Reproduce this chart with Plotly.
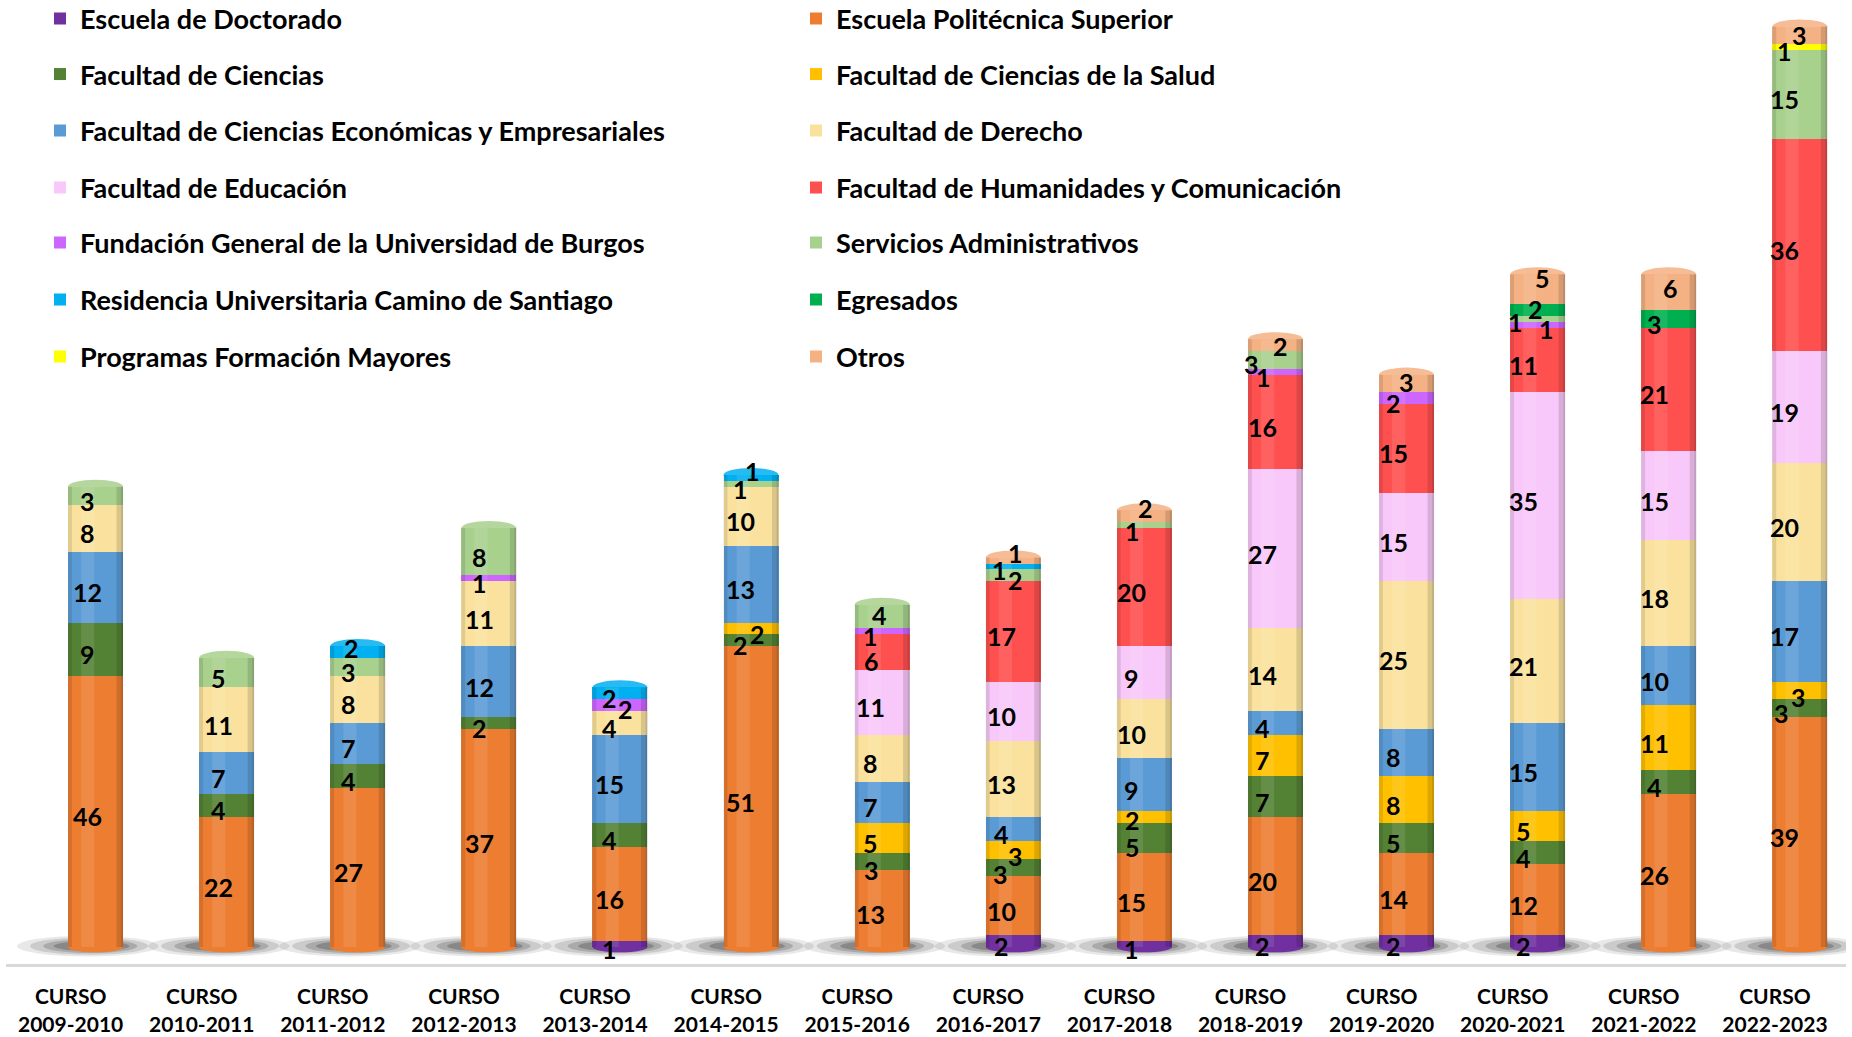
import plotly.graph_objects as go

# Academic years
cursos = ["2009-2010", "2010-2011", "2011-2012", "2012-2013", "2013-2014",
          "2014-2015", "2015-2016", "2016-2017", "2017-2018", "2018-2019",
          "2019-2020", "2020-2021", "2021-2022", "2022-2023"]
tick_labels = ["CURSO<br>" + c for c in cursos]

# Units, stacked bottom to top
escuela_doctorado      = [0, 0, 0, 0, 1, 0, 0, 2, 1, 2, 2, 2, 0, 0]
escuela_politecnica    = [46, 22, 27, 37, 16, 51, 13, 10, 15, 20, 14, 12, 26, 39]
fac_ciencias           = [9, 4, 4, 2, 4, 2, 3, 3, 5, 7, 5, 4, 4, 3]
fac_ciencias_salud     = [0, 0, 0, 0, 0, 2, 5, 3, 2, 7, 8, 5, 11, 3]
fac_economicas         = [12, 7, 7, 12, 15, 13, 7, 4, 9, 4, 8, 15, 10, 17]
fac_derecho            = [8, 11, 8, 11, 4, 10, 8, 13, 10, 14, 25, 21, 18, 20]
fac_educacion          = [0, 0, 0, 0, 0, 0, 11, 10, 9, 27, 15, 35, 15, 19]
fac_humanidades        = [0, 0, 0, 0, 0, 0, 6, 17, 20, 16, 15, 11, 21, 36]
fundacion_general      = [0, 0, 0, 1, 2, 0, 1, 0, 0, 1, 2, 1, 0, 0]
servicios_admin        = [3, 5, 3, 8, 0, 1, 4, 2, 1, 3, 0, 1, 0, 15]
residencia             = [0, 0, 2, 0, 2, 1, 0, 1, 0, 0, 0, 0, 0, 0]
egresados              = [0, 0, 0, 0, 0, 0, 0, 0, 0, 0, 0, 2, 3, 0]
programas_mayores      = [0, 0, 0, 0, 0, 0, 0, 0, 0, 0, 0, 0, 0, 1]
otros                  = [0, 0, 0, 0, 0, 0, 0, 1, 2, 2, 3, 5, 6, 3]

series = [
    ("Escuela de Doctorado", escuela_doctorado, "#7030A0"),
    ("Escuela Politécnica Superior", escuela_politecnica, "#ED7D31"),
    ("Facultad de Ciencias", fac_ciencias, "#548235"),
    ("Facultad de Ciencias de la Salud", fac_ciencias_salud, "#FFC000"),
    ("Facultad de Ciencias Económicas y Empresariales", fac_economicas, "#5B9BD5"),
    ("Facultad de Derecho", fac_derecho, "#FAE29E"),
    ("Facultad de Educación", fac_educacion, "#F9C8FA"),
    ("Facultad de Humanidades y Comunicación", fac_humanidades, "#FF5050"),
    ("Fundación General de la Universidad de Burgos", fundacion_general, "#CC66FF"),
    ("Servicios Administrativos", servicios_admin, "#A9D18E"),
    ("Residencia Universitaria Camino de Santiago", residencia, "#00B0F0"),
    ("Egresados", egresados, "#00B050"),
    ("Programas Formación Mayores", programas_mayores, "#FFFF00"),
    ("Otros", otros, "#F4B183"),
]

# Pixel nudges (dx right, dy down) for crowded labels on thin segments
label_nudges = {
    ("Residencia Universitaria Camino de Santiago", 2): (-6, -4),
    ("Fundación General de la Universidad de Burgos", 4): (6, 4),
    ("Facultad de Ciencias de la Salud", 5): (6, 6),
    ("Residencia Universitaria Camino de Santiago", 5): (1, -7),
    ("Facultad de Ciencias", 6): (-11, 9),
    ("Facultad de Humanidades y Comunicación", 6): (-11, 9),
    ("Servicios Administrativos", 6): (-3, -2),
    ("Fundación General de la Universidad de Burgos", 6): (-12, 5),
    ("Facultad de Ciencias", 7): (-13, 7),
    ("Facultad de Ciencias de la Salud", 7): (2, 6),
    ("Servicios Administrativos", 7): (2, 5),
    ("Residencia Universitaria Camino de Santiago", 7): (-14, 4),
    ("Otros", 7): (2, -8),
    ("Facultad de Ciencias", 8): (-12, 9),
    ("Facultad de Ciencias de la Salud", 8): (-12, 3),
    ("Servicios Administrativos", 8): (-12, 6),
    ("Otros", 8): (1, -8),
    ("Fundación General de la Universidad de Burgos", 9): (-12, 5),
    ("Servicios Administrativos", 9): (-24, 4),
    ("Otros", 9): (5, 1),
    ("Otros", 10): (0, -2),
    ("Servicios Administrativos", 11): (-22, 3),
    ("Fundación General de la Universidad de Burgos", 11): (9, 4),
    ("Egresados", 11): (-2, -1),
    ("Otros", 11): (5, -11),
    ("Otros", 12): (2, -4),
    ("Facultad de Ciencias", 13): (-18, 5),
    ("Facultad de Ciencias de la Salud", 13): (-1, 7),
    ("Programas Formación Mayores", 13): (-15, 4),
    ("Otros", 13): (0, 0),
}

FONT = "Lato"
HALF_W = 0.21          # half of the bar width, in axis units
PX_W, PX_H = 1852, 1037
PLOT_TOP, PLOT_BOTTOM = 0, 964
PLOT_H = PLOT_BOTTOM - PLOT_TOP
BASE_PX = 947          # pixel row of the zero line
UNIT_PX = 5.9          # pixels per unit on the value axis

n = len(cursos)
xpos = list(range(n))

fig = go.Figure()

for k, (name, vals, color) in enumerate(series):
    fig.add_trace(go.Bar(
        name=name,
        x=xpos,
        y=[v if v else None for v in vals],
        width=2 * HALF_W,
        marker=dict(color=color, line=dict(width=0)),
        legend="legend" if k // 2 == 0 else f"legend{k // 2 + 1}",
        hoverinfo="skip",
    ))


def lighten(hex_color, f):
    h = hex_color.lstrip("#")
    r, g, b = (int(h[i:i + 2], 16) for i in (0, 2, 4))
    r, g, b = (int(c + (255 - c) * f) for c in (r, g, b))
    return f"rgb({r},{g},{b})"


shapes = []
annotations = []
for i in range(n):
    total = sum(vals[i] for _, vals, _ in series)
    bottom_color = next(c for (_, v, c) in series if v[i])
    top_color = next(c for (_, v, c) in reversed(series) if v[i])

    # soft floor shadow around the base, spreading mostly to the left
    for dx0, dx1, y0, y1, op in [(0.60, 0.48, -1.6, 1.9, 0.09),
                                 (0.50, 0.40, -1.3, 1.6, 0.12),
                                 (0.40, 0.32, -1.0, 1.3, 0.16),
                                 (0.32, 0.26, -0.7, 1.0, 0.20)]:
        shapes.append(dict(type="circle", xref="x", yref="y", layer="below",
                           x0=i - dx0, x1=i + dx1, y0=y0, y1=y1,
                           fillcolor=f"rgba(0,0,0,{op})", line=dict(width=0)))
    # rounded base of the cylinder
    shapes.append(dict(type="circle", xref="x", yref="y", layer="below",
                       x0=i - HALF_W, x1=i + HALF_W, y0=-0.9, y1=0.9,
                       fillcolor=bottom_color, line=dict(width=0)))
    # top cap of the cylinder
    shapes.append(dict(type="circle", xref="x", yref="y", layer="below",
                       x0=i - HALF_W, x1=i + HALF_W, y0=total - 1.2, y1=total + 1.2,
                       fillcolor=lighten(top_color, 0.15), line=dict(width=0)))
    # cylinder shading along the sides
    for x0, x1, fill in [(-HALF_W, -HALF_W + 0.03, "rgba(0,0,0,0.10)"),
                         (HALF_W - 0.05, HALF_W, "rgba(0,0,0,0.13)"),
                         (HALF_W - 0.015, HALF_W, "rgba(0,0,0,0.10)"),
                         (-0.11, -0.01, "rgba(255,255,255,0.10)")]:
        shapes.append(dict(type="rect", xref="x", yref="y", layer="above",
                           x0=i + x0, x1=i + x1, y0=0, y1=total,
                           fillcolor=fill, line=dict(width=0)))

    # value labels, centred on each segment
    base = 0
    default_dx = -(8 + 0.55 * i)
    for name, vals, _ in series:
        v = vals[i]
        if not v:
            continue
        dx, dy = label_nudges.get((name, i), (default_dx, 5))
        annotations.append(dict(
            x=i, y=base + v / 2, xref="x", yref="y", text=str(v),
            showarrow=False, xshift=dx, yshift=-dy,
            font=dict(family=FONT, size=25, color="black", weight="bold"),
        ))
        base += v

# one legend per row, two entries each
legend_rows_px = [19, 74.5, 131, 188, 243, 300, 357]
legends = {}
for r, ypx in enumerate(legend_rows_px):
    key = "legend" if r == 0 else f"legend{r + 1}"
    legends[key] = dict(
        orientation="h", x=(40 - 6) / 1840, xanchor="left",
        y=1 - (ypx - PLOT_TOP) / PLOT_H, yanchor="middle",
        entrywidth=711, entrywidthmode="pixels",
        font=dict(family=FONT, size=27, color="black", weight="bold"),
        bgcolor="rgba(0,0,0,0)", itemclick=False, itemdoubleclick=False,
        traceorder="normal",
    )

fig.update_layout(
    width=PX_W, height=PX_H,
    barmode="stack",
    plot_bgcolor="white", paper_bgcolor="white",
    margin=dict(l=6, r=6, t=PLOT_TOP, b=PX_H - PLOT_BOTTOM, autoexpand=False),
    showlegend=True,
    shapes=shapes,
    annotations=annotations,
    xaxis=dict(
        range=[-0.683, 13.352],
        tickmode="array",
        tickvals=[i - 0.19 for i in xpos],
        ticktext=tick_labels,
        showline=True, linecolor="#D9D9D9", linewidth=3,
        showgrid=False, zeroline=False, ticks="",
        tickfont=dict(family=FONT, size=21, color="black", weight="bold"),
        ticklabelstandoff=12,
    ),
    yaxis=dict(range=[-(PLOT_BOTTOM - BASE_PX) / UNIT_PX, (BASE_PX - PLOT_TOP) / UNIT_PX],
               visible=False, showgrid=False, zeroline=False),
    **legends,
)

fig.write_html("out.html")
